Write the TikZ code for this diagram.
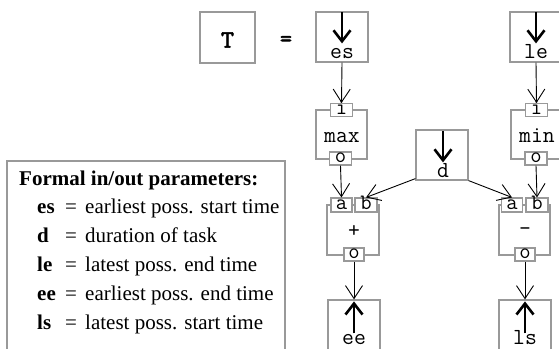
\documentclass[tikz,border=0pt]{standalone}
\usepackage{fontspec}
\setmainfont{Liberation Serif}
\newfontfamily\boldmono[FakeBold=2.5]{Latin Modern Mono}
\usetikzlibrary{arrows.meta}
\definecolor{boxgray}{HTML}{999999}

\tikzset{
  frame/.style={draw=boxgray, line width=1.2pt, inner sep=0pt},
  parambox/.style={frame, minimum width=52pt, minimum height=50pt},
  funcbox/.style={frame, minimum width=51pt, minimum height=49pt},
  port/.style={frame, fill=white, line width=1.1pt, minimum width=22pt,
    minimum height=13pt, font=\fontsize{22}{22}\ttfamily,
    text height=8.5pt, text depth=0pt},
  monolabel/.style={inner sep=0pt, font=\fontsize{23}{23}\ttfamily},
  link/.style={-{Straight Barb[length=13pt,width=17pt]}, line width=0.9pt},
  inarrow/.style={-{Straight Barb[length=11pt,width=17pt]}, line width=2.6pt},
  legtext/.style={inner sep=0pt, anchor=base west, font=\fontsize{21}{21}\selectfont},
  legsym/.style={legtext, font=\fontsize{21}{21}\selectfont\bfseries},
}

\begin{document}
\begin{tikzpicture}[x=1pt,y=-1pt]
\useasboundingbox (0,0) rectangle (559,348);
\clip (0,0) rectangle (559,348);

% the task T and its definition sign
\node[frame, minimum width=55pt, minimum height=51pt] (tbox) at (227.5,37.5) {};
\node[monolabel, font=\fontsize{25}{25}\boldmono] (tname) at (227.5,40) {T};
\node[monolabel, font=\fontsize{23}{23}\boldmono] (eqsign) at (286,41) {=};

% input parameters
\node[parambox] (es) at (342,37) {};
\node[monolabel, anchor=base] (eslab) at (342,58.5) {es};
\draw[inarrow] ([yshift=-1pt]es.north) -- ([yshift=-32pt]es.north);

\node[parambox] (le) at (536,37) {};
\node[monolabel, anchor=base] (lelab) at (536,58.5) {le};
\draw[inarrow] ([yshift=-1pt]le.north) -- ([yshift=-32pt]le.north);

\node[parambox] (d) at (442,155) {};
\node[monolabel, anchor=base] (dlab) at (443,177) {d};
\draw[inarrow] ([yshift=-2pt,xshift=1pt]d.north) -- ([yshift=-33pt,xshift=1pt]d.north);

% max block
\node[funcbox] (max) at (341.5,134.5) {};
\node[monolabel, anchor=base] (maxlab) at (342,142) {max};
\node[port] (maxi) at (341.5,110) {i};
\node[port] (maxo) at (340.5,158.5) {o};

% min block
\node[funcbox, minimum width=52pt] (min) at (537,134.5) {};
\node[monolabel, anchor=base] (minlab) at (537,142) {min};
\node[port] (mini) at (536.5,110) {i};
\node[port] (mino) at (536,158.5) {o};

% adder
\node[parambox] (plus) at (353,230) {};
\node[monolabel] (pluslab) at (354,231) {+};
\node[port, minimum width=21pt, minimum height=14pt] (plusa) at (341.5,205) {a};
\node[port, minimum height=14pt] (plusb) at (366,205) {b};
\node[port, minimum width=20pt] (pluso) at (354,254.5) {o};

% subtractor
\node[funcbox, minimum height=50pt] (minus) at (524.5,230) {};
\node[monolabel] (minuslab) at (525,232) {-};
\node[port, minimum width=21pt, minimum height=14pt] (minusa) at (512,205) {a};
\node[port, minimum height=14pt] (minusb) at (537,205) {b};
\node[port, minimum width=20pt] (minuso) at (525,254.5) {o};

% output parameters
\node[parambox] (ee) at (354,325) {};
\node[monolabel, anchor=base] (eelab) at (354,344) {ee};
\draw[inarrow] ([yshift=-34pt]ee.north) -- ([yshift=-2pt]ee.north);

\node[parambox] (ls) at (525,325) {};
\node[monolabel, anchor=base] (lslab) at (525,344) {ls};
\draw[inarrow] ([yshift=-34pt]ls.north) -- ([yshift=-2pt]ls.north);

% data flow
\draw[link] (es.south) -- (maxi.north);
\draw[link] (le.south) -- (mini.north);
\draw[link] (maxo.south) -- (plusa.north);
\draw[link] (mino.south) -- (minusb.north);
\draw[link] ([yshift=2pt]d.south west) -- (plusb.north);
\draw[link] (d.south east) -- (minusa.north);
\draw[link] (pluso.south) -- (ee.north);
\draw[link] (minuso.south) -- (ls.north);

% legend
\node[frame, minimum width=278pt, minimum height=200pt] (legend) at (146,261) {};
\node[legtext, font=\fontsize{21}{21}\selectfont\bfseries] (legtitle) at (19,185) {Formal in/out parameters:};
\foreach \sym/\desc [count=\k] in {es/earliest poss. start time, d/duration of task,
    le/latest poss. end time, ee/earliest poss. end time, ls/latest poss. start time} {
  \node[legsym] (sym\k) at (37,{184+29*\k}) {\sym};
  \node[legtext] (eq\k) at (65,{184+29*\k}) {=};
  \node[legtext] (desc\k) at (85,{184+29*\k}) {\desc};
}
\end{tikzpicture}
\end{document}
